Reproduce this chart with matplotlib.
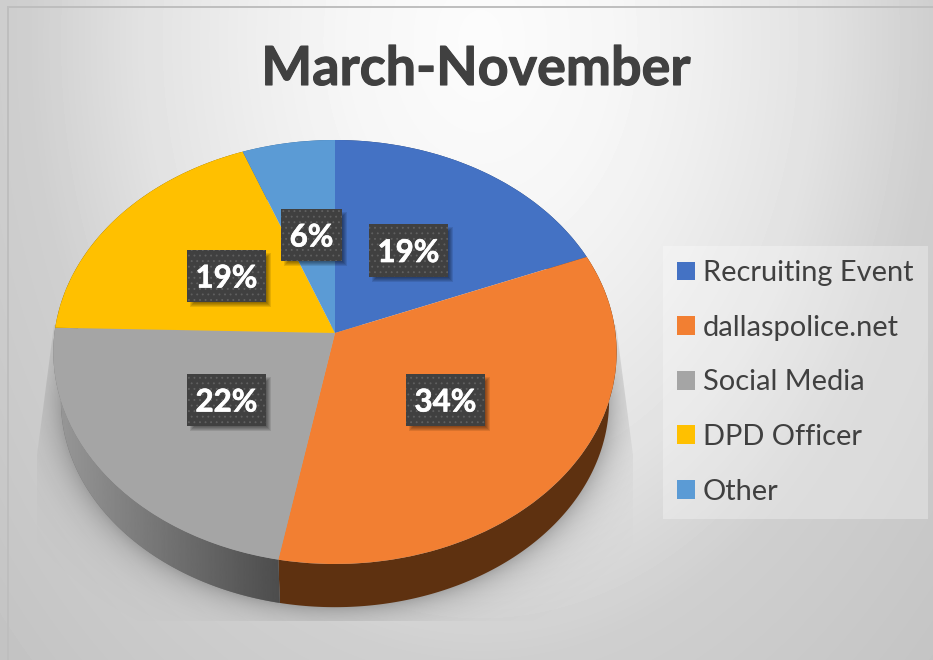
import numpy as np
import matplotlib
matplotlib.use("Agg")
import matplotlib.pyplot as plt
import matplotlib.patheffects as pe
from matplotlib.patches import Rectangle, Polygon
from matplotlib.transforms import Transform

categories = ["Recruiting Event", "dallaspolice.net", "Social Media", "DPD Officer", "Other"]
values = [18.9, 34.05, 22.45, 18.8, 5.8]
colors = ["#4472C4", "#F27F32", "#A5A5A5", "#FFC000", "#5B9BD5"]
wall_colors = ["#2A4475", "#5E3110", "#707070", "#7F6000", "#2F5F8F"]
title = "March-November"

W, H = 933, 660
label_boxes = [(369, 224, 79, 53), (406, 374, 79, 52), (187, 374, 79, 52), (187, 250, 79, 52), (281, 209, 61, 52)]

plt.rcParams["font.family"] = ["Lato", "DejaVu Sans"]
plt.rcParams["hatch.linewidth"] = 0.6


class Persp(Transform):
    input_dims = output_dims = 2

    def __init__(self, cx, cy, B, A, k):
        super().__init__()
        self.p = (cx, cy, B, A, k)

    def transform_non_affine(self, values):
        cx, cy, B, A, k = self.p
        v = np.asarray(values, float)
        d = 1 + k * v[:, 1]
        return np.c_[cx + B * v[:, 0] / d, cy - A * v[:, 1] / d]


K = 0.0896
top = Persp(335, 333, 280.5, 210.3, K)
bot = Persp(335, 382, 273, 205, K)

fig = plt.figure(figsize=(W / 100, H / 100), dpi=100, facecolor="white")
ax = fig.add_axes([0, 0, 1, 1])
wedges, _ = ax.pie(values, colors=colors, startangle=90, counterclock=False,
                   wedgeprops=dict(linewidth=0), radius=1, center=(0, 0))
ax.set_aspect("auto")
ax.set_xlim(0, W)
ax.set_ylim(H, 0)
ax.axis("off")

for w in wedges:
    w.set_transform(top + ax.transData)
    w.set_zorder(5)

# background
yy, xx = np.mgrid[0:H, 0:W]
r = np.sqrt(((xx - 480) / 450.0) ** 2 + ((yy - 40) / 620.0) ** 2)
bg = np.interp(r, [0, 0.3, 0.5, 0.75, 1.0, 1.42], [252, 246, 238, 226, 207, 196]) / 255
ax.imshow(bg, cmap="gray", vmin=0, vmax=1, extent=(0, W, H, 0), zorder=0, aspect="auto",
          clip_path=Rectangle((8, 7), W, H, transform=ax.transData))
ax.plot([7.5, 7.5], [6.5, H], color="#BEBEBE", lw=1.4, zorder=1)
ax.plot([7.5, W], [6.5, 6.5], color="#BEBEBE", lw=1.4, zorder=1)

# soft shadow under the pie, limited to a trapezoid
t = np.linspace(0, 2 * np.pi, 721)
rim = bot.transform_non_affine(np.c_[np.cos(t), np.sin(t)])
ecx, ecy = (rim[:, 0].max() + rim[:, 0].min()) / 2, (rim[:, 1].max() + rim[:, 1].min()) / 2
erx, ery = (rim[:, 0].max() - rim[:, 0].min()) / 2, (rim[:, 1].max() - rim[:, 1].min()) / 2
q = np.sqrt(((xx - ecx) / erx) ** 2 + ((yy - ecy) / ery) ** 2)
a = 0.32 * np.exp(-np.clip(q - 1, 0, None) / 0.065)
sh = np.zeros((H, W, 4))
sh[..., :3] = 0.25
sh[..., 3] = a
im = ax.imshow(sh, extent=(0, W, H, 0), zorder=2, aspect="auto")
im.set_clip_path(Polygon([(54, 325), (37, 455), (37, 621), (633, 621), (633, 455), (616, 325)],
                         transform=ax.transData))

# side wall
for w, wc in zip(wedges, wall_colors):
    ang = np.radians(np.linspace(w.theta1, w.theta2, 200))
    uv = np.c_[np.cos(ang), np.sin(ang)]
    pts = np.vstack([top.transform_non_affine(uv), bot.transform_non_affine(uv)[::-1]])
    ax.add_patch(Polygon(pts, closed=True, fc=wc, ec="none", zorder=3))
    if wc == wall_colors[2]:
        grad = np.linspace(0.60, 0.30, 256)[None, :]
        g = ax.imshow(grad, cmap="gray", vmin=0, vmax=1, zorder=4, aspect="auto",
                      extent=(pts[:, 0].min(), pts[:, 0].max(), H, 0))
        g.set_clip_path(Polygon(pts, closed=True, transform=ax.transData))
ax.set_xlim(0, W)
ax.set_ylim(H, 0)

# data labels
for (x, y, bw, bh), v in zip(label_boxes, values):
    for i in range(5):
        ax.add_patch(Rectangle((x + 3 + i, y + 3 + i), bw + 2 - 2 * i, bh + 2 - 2 * i,
                               fc="black", ec="none", alpha=0.10, zorder=6))
    ax.add_patch(Rectangle((x, y), bw, bh, fc="#404040", ec="#606060", lw=0, hatch="...", zorder=7))
    ax.text(x + bw / 2, y + bh / 2, f"{v:.0f}%", color="white", fontsize=22.5, fontweight="bold",
            ha="center", va="center_baseline", zorder=8,
            path_effects=[pe.withStroke(linewidth=0.5, foreground="white")])

ax.text(476, 65, title, color="#404040", fontsize=38.8, fontweight="bold", ha="center",
        va="center_baseline", zorder=8,
        path_effects=[pe.withStroke(linewidth=0.8, foreground="#404040")])

leg = ax.legend(wedges, categories, loc="upper left", bbox_to_anchor=(662.5 / W, 1 - 246 / H),
                bbox_transform=fig.transFigure, frameon=True, fancybox=False, facecolor="white",
                edgecolor="none", framealpha=0.3, fontsize=20.9, labelcolor="#404040",
                handlelength=0.62, handleheight=0.62, handletextpad=0.28,
                labelspacing=0.985, borderpad=0.49, borderaxespad=0)
leg.set_zorder(9)

fig.savefig("out.png", dpi=100, facecolor="white")
